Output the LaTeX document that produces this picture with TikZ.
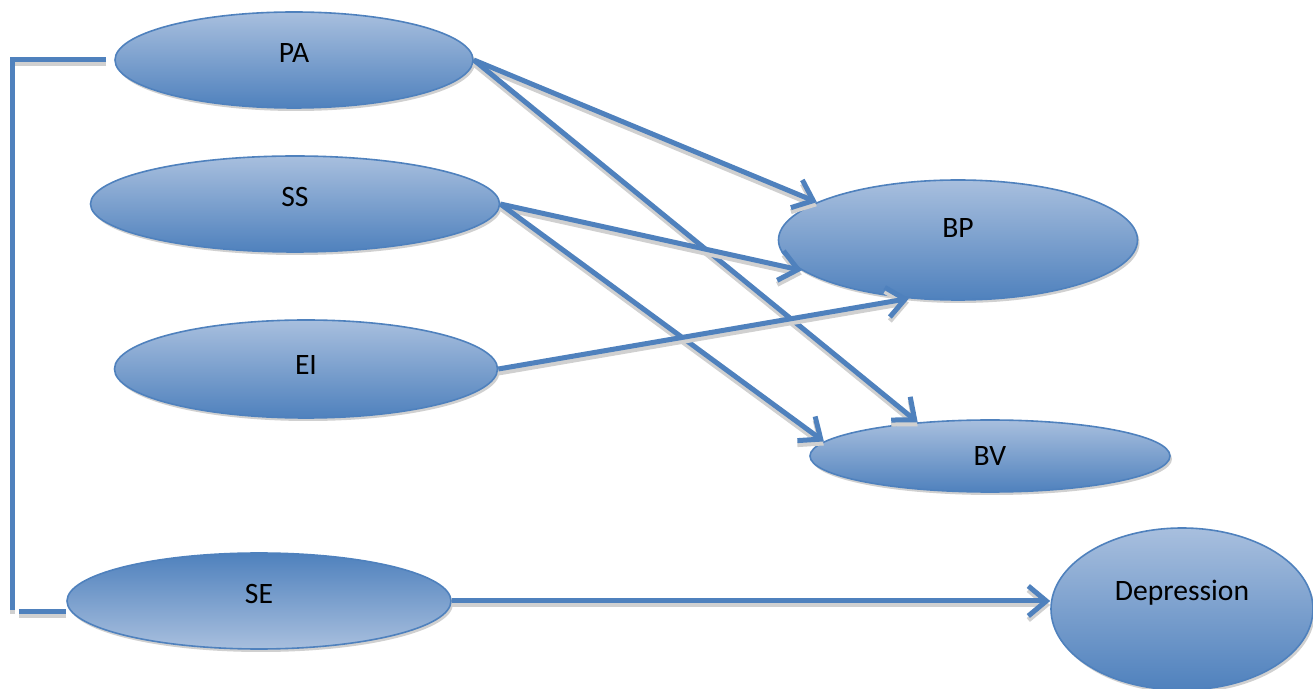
\documentclass[tikz,border=0pt]{standalone}
\usepackage{fontspec}
\setmainfont{Carlito}
\usetikzlibrary{arrows.meta,shadows,shapes.geometric}
\definecolor{myblue}{RGB}{79,129,189}
\definecolor{mylightblue}{RGB}{168,191,222}
\definecolor{myshadow}{RGB}{208,208,208}
\newcommand{\heightbubble}{48pt}
\newcommand{\widthlink}{2.5pt}
\tikzset{
    bubble/.style={ellipse, draw=myblue, line width=0.8pt, minimum height=\heightbubble,
        top color=mylightblue, bottom color=myblue, inner sep=0pt,
        font=\fontsize{14.8}{17}\selectfont,
        drop shadow={shadow xshift=1pt, shadow yshift=-1.5pt, fill=myshadow, opacity=1}},
    bubbleflip/.style={bubble, top color=myblue, bottom color=mylightblue},
    raise/.style={text depth=#1},
    link/.style={draw=myblue, line width=\widthlink,
        -{Straight Barb[length=9pt, width=15pt]},
        preaction={draw=myshadow, line width=\widthlink, transform canvas={yshift=-2pt}}},
    bracket/.style={draw=myblue, line width=\widthlink,
        preaction={draw=myshadow, line width=\widthlink, transform canvas={yshift=-2pt}}}
}
\begin{document}
\begin{tikzpicture}[x=0.5pt, y=-0.5pt]
    \useasboundingbox (0,0) rectangle (1313,689);
    % left column
    \node[bubble, raise=7pt, minimum width=179pt] (PA) at (294,60) {PA};
    \node[bubble, raise=7pt, minimum width=204.5pt] (SS) at (295,204) {SS};
    \node[bubble, raise=4pt, minimum width=191.5pt, minimum height=49pt] (EI) at (306,369) {EI};
    \node[bubbleflip, raise=7pt, minimum width=192pt] (SE) at (259,601) {SE};
    % right column
    \node[bubble, raise=12pt, minimum width=179.5pt, minimum height=60pt] (BP) at (958,240) {BP};
    \node[bubble, minimum width=180pt, minimum height=36pt] (BV) at (990,456) {BV};
    \node[bubble, raise=19pt, minimum width=131pt, minimum height=81pt] (Dep) at (1182,609) {Depression};

    \coordinate (brk-top) at (12,60);
    \coordinate (brk-bot) at (12,610);
    \draw[bracket] ([xshift=-4pt]PA.west) -- (brk-top) -- (brk-bot);
    \draw[bracket] ([xshift=-23.5pt, yshift=-5.5pt]SE.west) -- ([yshift=-5.5pt]SE.west);

    \draw[link] (PA.east) -- (BP.165);
    \draw[link] (PA.east) -- (BV.155);
    \draw[link] (SS.east) -- (BP.191);
    \draw[link] (SS.east) -- (BV.175);
    \draw[link] (EI.east) -- (BP.230);
    \draw[link] (SE.east) -- (SE.east -| Dep.west);
\end{tikzpicture}
\end{document}
